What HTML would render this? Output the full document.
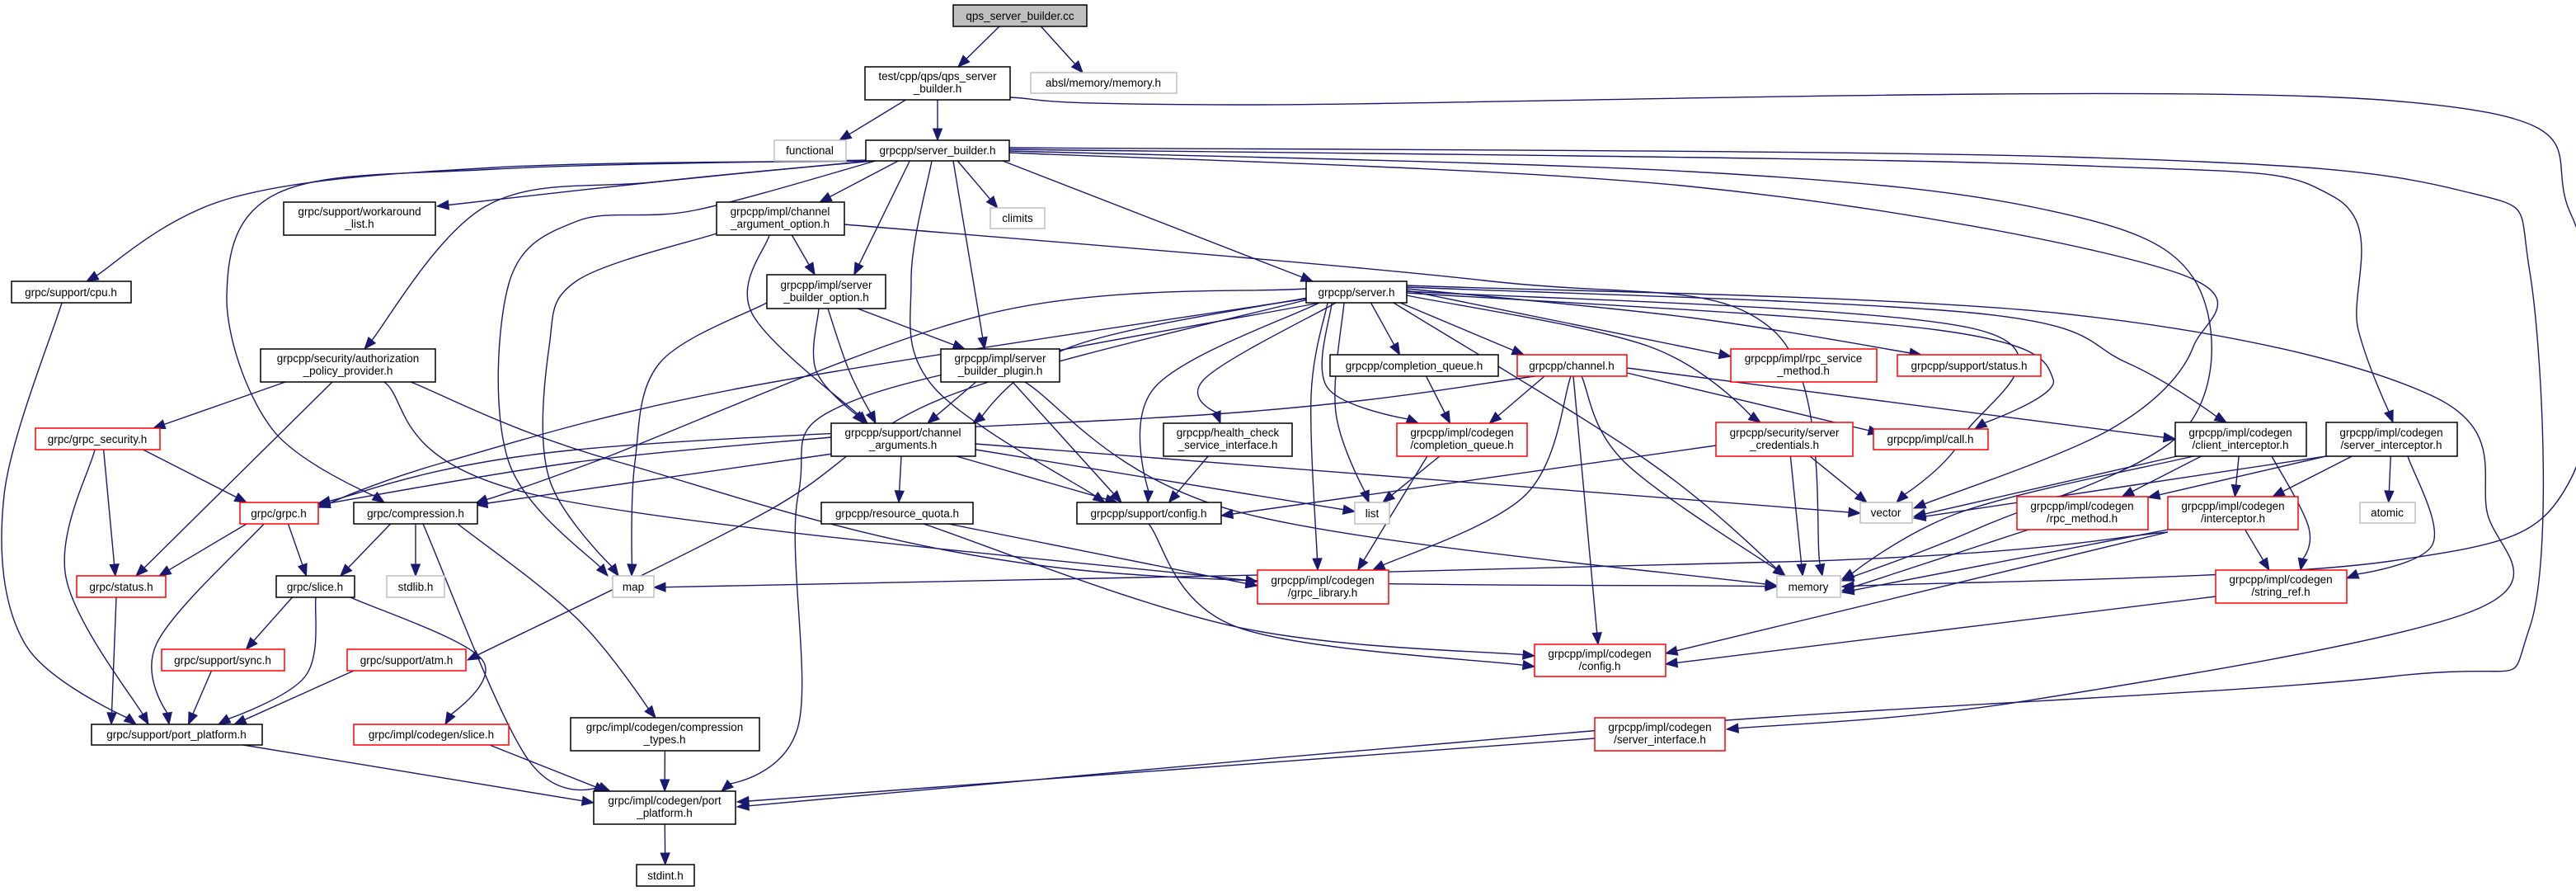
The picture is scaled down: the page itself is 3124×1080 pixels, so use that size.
<!DOCTYPE html>
<html><head><meta charset="utf-8">
<style>
html,body{margin:0;padding:0;background:#fff;}
svg{display:block}
text{font-family:"Liberation Sans",sans-serif;font-size:13.5px;fill:#000;text-anchor:middle}
</style></head>
<body>
<svg id="g" width="3124" height="1080" viewBox="0 0 3124 1080" xmlns="http://www.w3.org/2000/svg">
<g id="edges" fill="none" stroke="#191970" stroke-width="1.4"></g>
<g id="arrows" fill="#191970" stroke="#191970" stroke-width="1"></g>
<g id="nodes" stroke-width="1.5">
<rect x="1156" y="6" width="162" height="26" fill="#bfbfbf" stroke="#000"/><text x="1237" y="24">qps_server_builder.cc</text>
<rect x="1049" y="81" width="176" height="40" fill="#fff" stroke="#000"/><text x="1137" y="97">test/cpp/qps/qps_server</text><text x="1137" y="112">_builder.h</text>
<rect x="1250" y="88" width="177" height="25" fill="#fff" stroke="#bfbfbf"/><text x="1338" y="105">absl/memory/memory.h</text>
<rect x="939" y="170" width="87" height="25" fill="#fff" stroke="#bfbfbf"/><text x="982" y="187">functional</text>
<rect x="1050" y="170" width="174" height="25" fill="#fff" stroke="#000"/><text x="1137" y="187">grpcpp/server_builder.h</text>
<rect x="344" y="245" width="184" height="40" fill="#fff" stroke="#000"/><text x="436" y="261">grpc/support/workaround</text><text x="436" y="276">_list.h</text>
<rect x="869" y="245" width="155" height="40" fill="#fff" stroke="#000"/><text x="946" y="261">grpcpp/impl/channel</text><text x="946" y="276">_argument_option.h</text>
<rect x="1201" y="252" width="66" height="25" fill="#fff" stroke="#bfbfbf"/><text x="1234" y="269">climits</text>
<rect x="14" y="341" width="145" height="26" fill="#fff" stroke="#000"/><text x="86" y="359">grpc/support/cpu.h</text>
<rect x="930" y="333" width="144" height="41" fill="#fff" stroke="#000"/><text x="1002" y="350">grpcpp/impl/server</text><text x="1002" y="365">_builder_option.h</text>
<rect x="1584" y="341" width="122" height="26" fill="#fff" stroke="#000"/><text x="1645" y="359">grpcpp/server.h</text>
<rect x="316" y="423" width="212" height="40" fill="#fff" stroke="#000"/><text x="422" y="439">grpcpp/security/authorization</text><text x="422" y="454">_policy_provider.h</text>
<rect x="1141" y="423" width="144" height="40" fill="#fff" stroke="#000"/><text x="1213" y="439">grpcpp/impl/server</text><text x="1213" y="454">_builder_plugin.h</text>
<rect x="1613" y="430" width="204" height="26" fill="#fff" stroke="#000"/><text x="1715" y="448">grpcpp/completion_queue.h</text>
<rect x="1840" y="430" width="133" height="26" fill="#fff" stroke="#f00"/><text x="1906" y="448">grpcpp/channel.h</text>
<rect x="2099" y="423" width="177" height="40" fill="#fff" stroke="#f00"/><text x="2187" y="439">grpcpp/impl/rpc_service</text><text x="2187" y="454">_method.h</text>
<rect x="2301" y="430" width="174" height="26" fill="#fff" stroke="#f00"/><text x="2388" y="448">grpcpp/support/status.h</text>
<rect x="43" y="519" width="151" height="26" fill="#fff" stroke="#f00"/><text x="118" y="537">grpc/grpc_security.h</text>
<rect x="1008" y="513" width="175" height="40" fill="#fff" stroke="#000"/><text x="1095" y="529">grpcpp/support/channel</text><text x="1095" y="544">_arguments.h</text>
<rect x="1411" y="513" width="156" height="40" fill="#fff" stroke="#000"/><text x="1489" y="529">grpcpp/health_check</text><text x="1489" y="544">_service_interface.h</text>
<rect x="1694" y="513" width="158" height="40" fill="#fff" stroke="#f00"/><text x="1773" y="529">grpcpp/impl/codegen</text><text x="1773" y="544">/completion_queue.h</text>
<rect x="2081" y="512" width="166" height="41" fill="#fff" stroke="#f00"/><text x="2164" y="529">grpcpp/security/server</text><text x="2164" y="544">_credentials.h</text>
<rect x="2272" y="520" width="139" height="25" fill="#fff" stroke="#f00"/><text x="2341" y="537">grpcpp/impl/call.h</text>
<rect x="2638" y="512" width="159" height="41" fill="#fff" stroke="#000"/><text x="2717" y="529">grpcpp/impl/codegen</text><text x="2717" y="544">/client_interceptor.h</text>
<rect x="2821" y="512" width="159" height="41" fill="#fff" stroke="#000"/><text x="2900" y="529">grpcpp/impl/codegen</text><text x="2900" y="544">/server_interceptor.h</text>
<rect x="291" y="609" width="95" height="26" fill="#fff" stroke="#f00"/><text x="338" y="627">grpc/grpc.h</text>
<rect x="429" y="609" width="150" height="26" fill="#fff" stroke="#000"/><text x="504" y="627">grpc/compression.h</text>
<rect x="996" y="609" width="184" height="26" fill="#fff" stroke="#000"/><text x="1088" y="627">grpcpp/resource_quota.h</text>
<rect x="1306" y="609" width="175" height="26" fill="#fff" stroke="#000"/><text x="1393" y="627">grpcpp/support/config.h</text>
<rect x="1643" y="609" width="42" height="26" fill="#fff" stroke="#bfbfbf"/><text x="1664" y="627">list</text>
<rect x="2256" y="609" width="63" height="25" fill="#fff" stroke="#bfbfbf"/><text x="2287" y="626">vector</text>
<rect x="2446" y="602" width="159" height="40" fill="#fff" stroke="#f00"/><text x="2525" y="618">grpcpp/impl/codegen</text><text x="2525" y="633">/rpc_method.h</text>
<rect x="2629" y="602" width="158" height="40" fill="#fff" stroke="#f00"/><text x="2708" y="618">grpcpp/impl/codegen</text><text x="2708" y="633">/interceptor.h</text>
<rect x="2862" y="609" width="67" height="25" fill="#fff" stroke="#bfbfbf"/><text x="2895" y="626">atomic</text>
<rect x="93" y="698" width="108" height="26" fill="#fff" stroke="#f00"/><text x="147" y="716">grpc/status.h</text>
<rect x="335" y="698" width="95" height="26" fill="#fff" stroke="#000"/><text x="382" y="716">grpc/slice.h</text>
<rect x="469" y="698" width="70" height="26" fill="#fff" stroke="#bfbfbf"/><text x="504" y="716">stdlib.h</text>
<rect x="743" y="698" width="50" height="26" fill="#fff" stroke="#bfbfbf"/><text x="768" y="716">map</text>
<rect x="1525" y="691" width="159" height="41" fill="#fff" stroke="#f00"/><text x="1604" y="708">grpcpp/impl/codegen</text><text x="1604" y="723">/grpc_library.h</text>
<rect x="2155" y="698" width="77" height="26" fill="#fff" stroke="#bfbfbf"/><text x="2193" y="716">memory</text>
<rect x="2687" y="691" width="159" height="40" fill="#fff" stroke="#f00"/><text x="2766" y="707">grpcpp/impl/codegen</text><text x="2766" y="722">/string_ref.h</text>
<rect x="196" y="787" width="149" height="26" fill="#fff" stroke="#f00"/><text x="270" y="805">grpc/support/sync.h</text>
<rect x="421" y="787" width="144" height="26" fill="#fff" stroke="#f00"/><text x="493" y="805">grpc/support/atm.h</text>
<rect x="1861" y="781" width="159" height="39" fill="#fff" stroke="#f00"/><text x="1940" y="797">grpcpp/impl/codegen</text><text x="1940" y="812">/config.h</text>
<rect x="111" y="878" width="207" height="25" fill="#fff" stroke="#000"/><text x="214" y="895">grpc/support/port_platform.h</text>
<rect x="429" y="878" width="188" height="25" fill="#fff" stroke="#f00"/><text x="523" y="895">grpc/impl/codegen/slice.h</text>
<rect x="692" y="870" width="229" height="40" fill="#fff" stroke="#000"/><text x="806" y="886">grpc/impl/codegen/compression</text><text x="806" y="901">_types.h</text>
<rect x="1934" y="870" width="158" height="40" fill="#fff" stroke="#f00"/><text x="2013" y="886">grpcpp/impl/codegen</text><text x="2013" y="901">/server_interface.h</text>
<rect x="720" y="959" width="172" height="40" fill="#fff" stroke="#000"/><text x="806" y="975">grpc/impl/codegen/port</text><text x="806" y="990">_platform.h</text>
<rect x="772" y="1048" width="70" height="26" fill="#fff" stroke="#000"/><text x="807" y="1066">stdint.h</text>
</g>
</svg>
<script>
var N={qpscc:[1156,6,1318,32],testh:[1049,81,1225,121],absl:[1250,88,1427,113],functional:[939,170,1026,195],SB:[1050,170,1224,195],work:[344,245,528,285],cao:[869,245,1024,285],climits:[1201,252,1267,277],cpu:[14,341,159,367],sbo:[930,333,1074,374],server:[1584,341,1706,367],auth:[316,423,528,463],plugin:[1141,423,1285,463],cq:[1613,430,1817,456],channel:[1840,430,1973,456],rsm:[2099,423,2276,463],status:[2301,430,2475,456],gsec:[43,519,194,545],chargs:[1008,513,1183,553],health:[1411,513,1567,553],ccq:[1694,513,1852,553],screds:[2081,512,2247,553],call:[2272,520,2411,545],cint:[2638,512,2797,553],sint:[2821,512,2980,553],grpch:[291,609,386,635],comp:[429,609,579,635],rq:[996,609,1180,635],cfg:[1306,609,1481,635],list:[1643,609,1685,635],vector:[2256,609,2319,634],rpcm:[2446,602,2605,642],intc:[2629,602,2787,642],atomic:[2862,609,2929,634],gstatus:[93,698,201,724],slice:[335,698,430,724],stdlib:[469,698,539,724],map:[743,698,793,724],glib:[1525,691,1684,732],memory:[2155,698,2232,724],sref:[2687,691,2846,731],sync:[196,787,345,813],atm:[421,787,565,813],ccfg:[1861,781,2020,820],pp:[111,878,318,903],cslice:[429,878,617,903],ctypes:[692,870,921,910],sif:[1934,870,2092,910],cpp:[720,959,892,999],stdint:[772,1048,842,1074]};
var E=[
['qpscc','testh'],['qpscc','absl'],['testh','functional'],['testh','SB'],
['testh','memory',[[1225,118],[1500,127],[2900,122],[3118,260],[3118,580],[2900,680],[2234,711]]],
['SB','cpu',[[1052,195],[600,203],[280,240],[105,341]]],
['SB','work',[[1056,195],[800,220],[530,250]]],
['SB','comp',[[1054,194],[600,205],[337,234],[275,358],[330,520],[466,609]]],
['SB','auth',[[1060,195],[800,220],[589,250],[442,423]]],
['SB','cao'],
['SB','map',[[1062,195],[842,255],[700,268],[617,344],[617,560],[737,698]]],
['cao','map',[[869,283],[700,340],[666,420],[666,580],[750,698]]],
['sbo','map',[[930,367],[800,440],[770,560],[766,698]]],
['SB','sbo'],['SB','climits'],['SB','plugin'],['SB','server'],
['SB','cfg',[[1130,195],[1105,340],[1133,470],[1340,609]]],
['SB','vector',[[1224,185],[2050,226],[2632,328],[2660,420],[2560,520],[2321,616]]],
['SB','memory',[[1224,183],[2050,208],[2475,253],[2660,337],[2650,520],[2400,640],[2234,704]]],
['SB','sint',[[1224,181],[2500,200],[2831,239],[2860,400],[2902,512]]],
['SB','cpp',[[1224,179],[2500,190],[2980,230],[3068,330],[3068,760],[2900,820],[2000,880],[894,978]]],
['server','sif',[[1706,346],[2500,380],[2950,480],[3016,620],[3000,740],[2454,850],[2094,884]]],
['cao','sbo'],
['cao','chargs',[[933,285],[912,380],[1052,513]]],
['cao','memory',[[1024,272],[1800,340],[2150,400],[2210,698]]],
['sbo','chargs',[[1004,374],[1030,450],[1062,513]]],
['sbo','chargs',[[993,374],[990,450],[1048,513]]],
['sbo','plugin',[[1040,374],[1170,423]]],
['auth','gsec'],
['auth','gstatus',[[403,463],[165,698]]],
['auth','glib',[[466,463],[650,600],[1525,705]]],
['auth','memory',[[498,463],[750,560],[1300,690],[2155,711]]],
['gsec','grpch'],['gsec','gstatus'],
['gsec','pp',[[115,545],[80,700],[180,878]]],
['cpu','pp',[[75,367],[5,600],[30,780],[165,878]]],
['plugin','chargs'],
['plugin','cfg',[[1228,463],[1360,609]]],
['plugin','memory',[[1243,463],[1500,620],[2155,710]]],
['chargs','grpch',[[1008,530],[700,560],[386,612]]],
['chargs','comp',[[1010,550],[577,612]]],
['chargs','rq',[[1093,553],[1090,609]]],
['chargs','cfg',[[1160,553],[1355,609]]],
['chargs','list',[[1183,545],[1643,620]]],
['chargs','vector',[[1183,538],[2256,622]]],
['health','cfg'],['cq','ccq'],
['channel','grpch',[[1862,456],[1500,500],[700,545],[386,610]]],
['channel','ccq'],
['channel','glib',[[1905,456],[1850,600],[1665,691]]],
['channel','ccfg',[[1908,456],[1938,781]]],
['channel','memory',[[1918,456],[1970,560],[2165,698]]],
['channel','call',[[1973,452],[2280,525]]],
['channel','cint',[[1973,446],[2638,532]]],
['ccq','list'],['ccq','glib'],
['screds','cfg',[[2081,540],[1481,625]]],
['screds','memory'],['screds','vector'],
['cint','vector',[[2640,553],[2321,626]]],['cint','rpcm'],['cint','intc'],
['cint','sref',[[2755,553],[2800,640],[2790,691]]],
['cint','memory',[[2660,553],[2380,620],[2234,702]]],
['sint','vector',[[2821,553],[2321,628]]],
['sint','rpcm',[[2821,553],[2605,603]]],['sint','intc'],['sint','atomic'],
['sint','sref',[[2920,553],[2950,660],[2846,701]]],
['rpcm','memory',[[2460,642],[2234,716]]],
['intc','memory',[[2629,642],[2234,718]]],['intc','sref'],
['intc','map',[[2629,645],[2200,680],[793,712]]],
['intc','ccfg',[[2629,645],[2020,792]]],
['sref','ccfg',[[2687,723],[2020,805]]],
['cfg','ccfg',[[1393,635],[1500,760],[1861,808]]],
['rq','glib',[[1150,635],[1525,710]]],
['rq','ccfg',[[1120,635],[1500,760],[1861,795]]],
['grpch','gstatus'],['grpch','slice'],
['grpch','pp',[[320,635],[190,780],[205,878]]],
['comp','slice'],['comp','stdlib'],
['comp','cpp',[[513,635],[640,920],[740,959]]],
['comp','ctypes',[[555,635],[700,750],[795,870]]],
['gstatus','pp',[[141,724],[135,878]]],
['slice','sync'],
['slice','pp',[[383,724],[370,820],[265,878]]],
['slice','cslice',[[425,724],[585,800],[540,878]]],
['sync','pp'],['atm','pp'],
['pp','cpp',[[295,903],[720,973]]],
['cslice','cpp'],['ctypes','cpp'],['cpp','stdint'],
['sif','cpp',[[1934,895],[894,972]]],
['server','comp',[[1584,350],[1200,380],[720,560],[577,610]]],
['server','chargs',[[1590,360],[1300,420],[1180,513]]],
['server','atm',[[1590,362],[1150,480],[930,620],[567,800]]],
['server','cpp',[[1600,367],[1050,480],[968,600],[968,880],[875,959]]],
['server','glib',[[1610,367],[1590,480],[1598,691]]],
['server','health',[[1620,367],[1460,460],[1480,513]]],
['server','cfg',[[1600,367],[1400,470],[1392,609]]],
['server','list',[[1630,367],[1620,500],[1660,609]]],
['server','cq'],
['server','ccq',[[1615,367],[1610,470],[1720,513]]],
['server','channel'],
['server','rsm',[[1706,352],[2099,432]]],
['server','status',[[1706,350],[2050,385],[2330,430]]],
['server','screds',[[1706,358],[2000,420],[2135,512]]],
['server','call',[[1706,355],[2350,400],[2490,460],[2395,520]]],
['server','memory',[[1690,367],[2000,560],[2165,698]]],
['server','vector',[[1706,353],[2400,400],[2380,530],[2300,609]]],
['server','cint',[[1706,348],[2400,380],[2580,440],[2700,512]]],
['server','grpch',[[1584,362],[900,470],[540,560],[386,615]]]
];
function cl(v,a,b){return Math.max(a,Math.min(b,v));}
var ep='',ap='';
E.forEach(function(e){
 var s=N[e[0]],t=N[e[1]],P=e[2];
 if(!P){var scx=(s[0]+s[2])/2,tcx=(t[0]+t[2])/2;
  P=[[cl(scx+(tcx-scx)*0.25,s[0]+8,s[2]-8),s[3]],[cl(tcx+(scx-tcx)*0.25,t[0]+8,t[2]-8),t[1]]];}
 P=P.map(function(p){return p.slice();});
 var n=P.length,segs=[];
 for(var i=0;i<n-1;i++){
  var p0=P[Math.max(0,i-1)],p1=P[i],p2=P[i+1],p3=P[Math.min(n-1,i+2)];
  var c1=[p1[0]+(p2[0]-p0[0])/6,p1[1]+(p2[1]-p0[1])/6];
  var c2=[p2[0]-(p3[0]-p1[0])/6,p2[1]-(p3[1]-p1[1])/6];
  segs.push([c1,c2,p2]);
 }
 var last=segs[segs.length-1],tip=last[2],c2=last[1];
 var dx=tip[0]-c2[0],dy=tip[1]-c2[1],L=Math.hypot(dx,dy)||1;dx/=L;dy/=L;
 var al=14,aw=5.5,base=[tip[0]-dx*al,tip[1]-dy*al];
 last[2]=base;
 if(Math.hypot(last[1][0]-base[0],last[1][1]-base[1])<al) last[1]=base;
 var d='M'+P[0][0]+','+P[0][1];
 segs.forEach(function(sg){d+=' C'+sg[0][0].toFixed(1)+','+sg[0][1].toFixed(1)+' '+sg[1][0].toFixed(1)+','+sg[1][1].toFixed(1)+' '+sg[2][0].toFixed(1)+','+sg[2][1].toFixed(1);});
 ep+='<path d="'+d+'"/>';
 var px=-dy,py=dx;
 ap+='<polygon points="'+tip[0]+','+tip[1]+' '+(base[0]+px*aw).toFixed(1)+','+(base[1]+py*aw).toFixed(1)+' '+(base[0]-px*aw).toFixed(1)+','+(base[1]-py*aw).toFixed(1)+'"/>';
});
document.getElementById('edges').innerHTML=ep;
document.getElementById('arrows').innerHTML=ap;
</script>
</body></html>
